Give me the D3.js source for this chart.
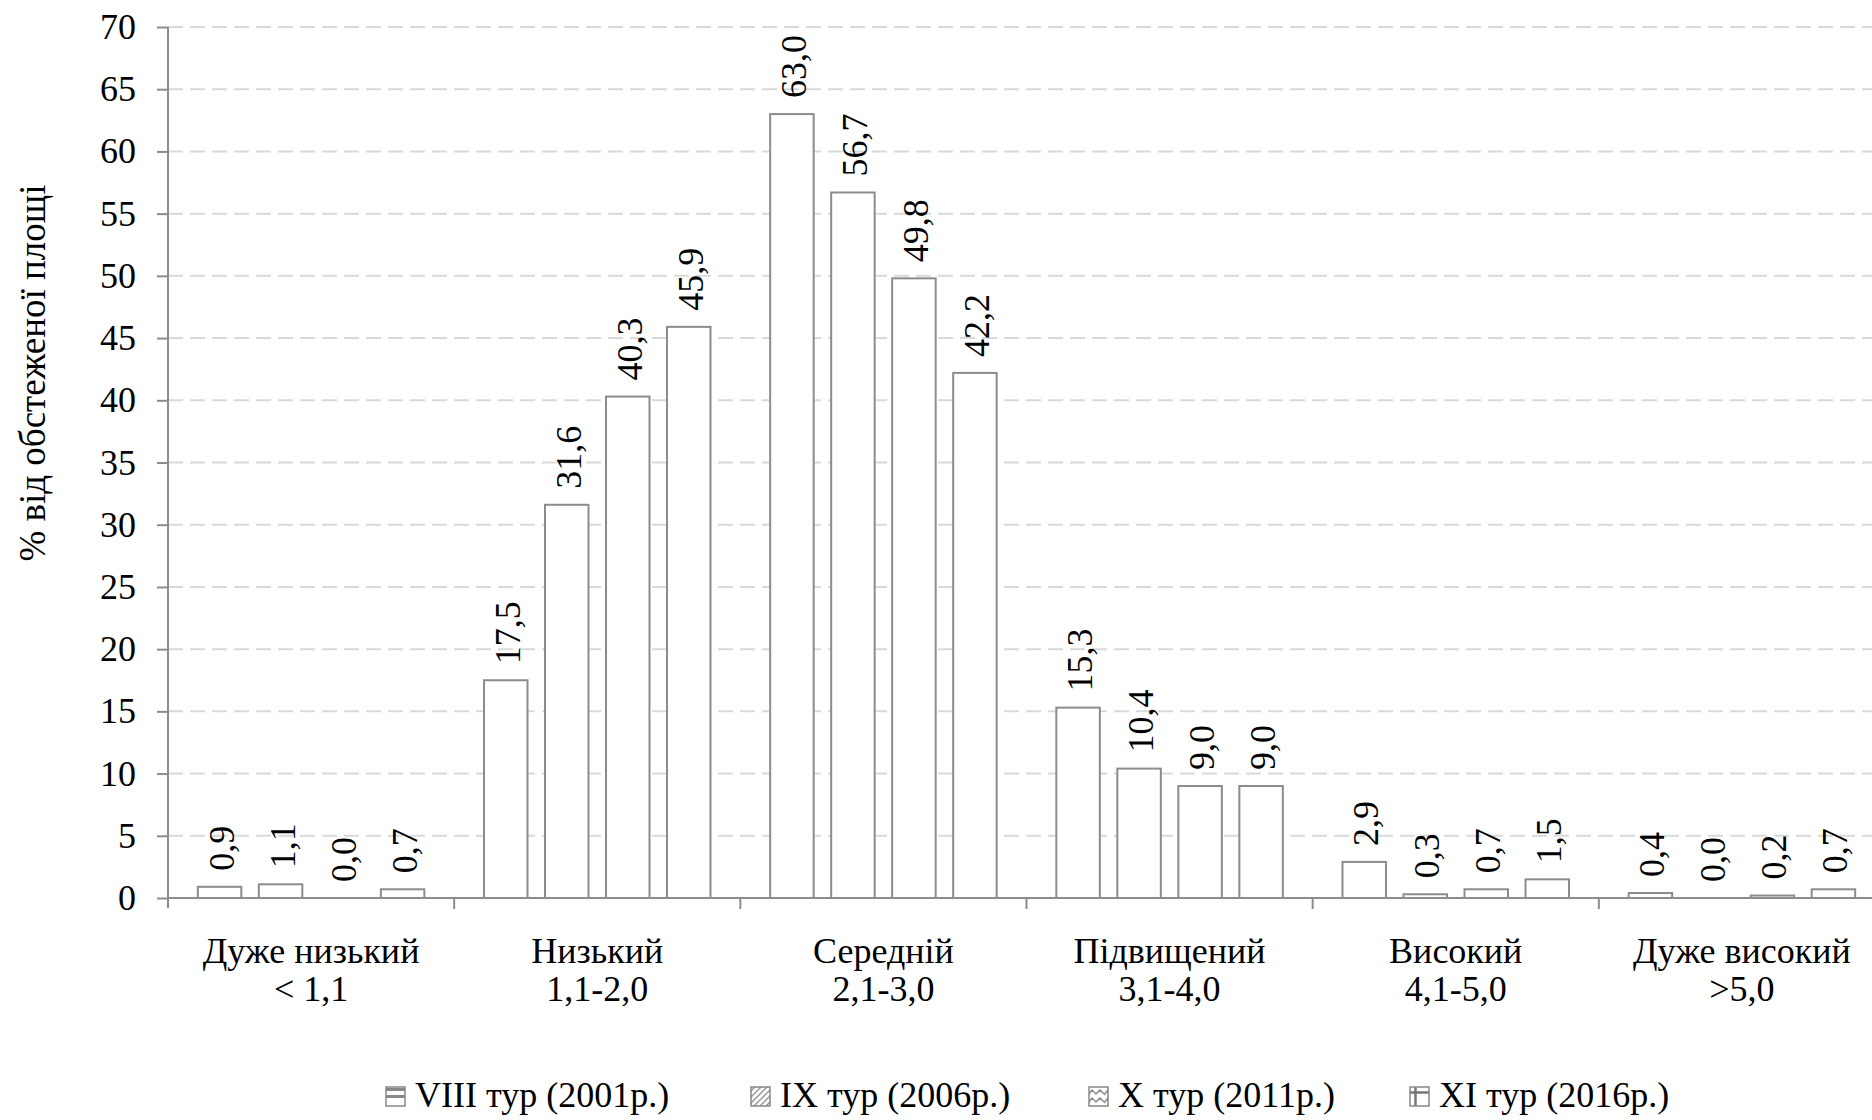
<!DOCTYPE html>
<html>
<head>
<meta charset="utf-8">
<script src="https://cdn.jsdelivr.net/npm/d3@7"></script>
<style>
  body { margin: 0; background: #fff; }
</style>
</head>
<body>
<div id="chart"></div>
<script>
// categories (two lines each)
const categories = ["Дуже низький", "Низький", "Середній", "Підвищений", "Високий", "Дуже високий"];
const ranges = ["< 1,1", "1,1-2,0", "2,1-3,0", "3,1-4,0", "4,1-5,0", ">5,0"];
const seriesNames = ["VIII тур (2001р.)", "IX тур (2006р.)", "X тур (2011р.)", "XI тур (2016р.)"];

// values per series, in category order
const tour8 = [0.9, 17.5, 63.0, 15.3, 2.9, 0.4];
const tour9 = [1.1, 31.6, 56.7, 10.4, 0.3, 0.0];
const tour10 = [0.0, 40.3, 49.8, 9.0, 0.7, 0.2];
const tour11 = [0.7, 45.9, 42.2, 9.0, 1.5, 0.7];
const yTicks = [0, 5, 10, 15, 20, 25, 30, 35, 40, 45, 50, 55, 60, 65, 70];

const allSeries = [tour8, tour9, tour10, tour11];

const width = 1872, height = 1120;
// the last category runs past the right edge, as in the original
const margin = {top: 27, left: 168, right: -13, bottom: 222};
const gray = "#8c8c8c";
const FONT = "'Liberation Serif', Tinos, 'Times New Roman', Times, 'Nimbus Roman', 'DejaVu Serif', 'Noto Serif', serif";
const legendX = [386, 751, 1089, 1410];

const svg = d3.select("#chart").append("svg")
  .attr("width", width).attr("height", height)
  .style("font-family", FONT);

// legend swatch patterns
const defs = svg.append("defs");
const p1 = defs.append("pattern").attr("id", "pat0").attr("width", 19).attr("height", 19).attr("patternUnits", "userSpaceOnUse");
p1.append("rect").attr("width", 19).attr("height", 19).attr("fill", "#fff");
p1.append("rect").attr("y", 5).attr("width", 19).attr("height", 3).attr("fill", "#888");
p1.append("rect").attr("y", 12).attr("width", 19).attr("height", 3).attr("fill", "#888");
const p2 = defs.append("pattern").attr("id", "pat1").attr("width", 6).attr("height", 6).attr("patternUnits", "userSpaceOnUse");
p2.append("rect").attr("width", 6).attr("height", 6).attr("fill", "#fff");
p2.append("path").attr("d", "M0,6 L6,0 M-1,1 L1,-1 M5,7 L7,5").attr("stroke", "#999").attr("stroke-width", 1.5);
const p3 = defs.append("pattern").attr("id", "pat2").attr("width", 16).attr("height", 8).attr("patternUnits", "userSpaceOnUse");
p3.append("rect").attr("width", 16).attr("height", 8).attr("fill", "#fff");
p3.append("path").attr("d", "M0,7 L4,2 L8,6 L12,2 L16,6").attr("stroke", "#888").attr("fill", "none").attr("stroke-width", 1.5);
const p4 = defs.append("pattern").attr("id", "pat3").attr("width", 19).attr("height", 19).attr("patternUnits", "userSpaceOnUse");
p4.append("rect").attr("width", 19).attr("height", 19).attr("fill", "#fff");
p4.append("path").attr("d", "M0,9.5 L19,9.5 M9.5,0 L9.5,19").attr("stroke", "#777").attr("stroke-width", 2.5);

const x0 = d3.scaleBand().domain(categories)
  .range([margin.left, width - margin.right]).padding(0);
const x1 = d3.scaleBand().domain(d3.range(seriesNames.length))
  .range([0, x0.bandwidth()]).paddingInner(0.287).paddingOuter(0.489);
const y = d3.scaleLinear().domain([0, 70]).range([height - margin.bottom, margin.top]);

const fmt = v => d3.format(".1f")(v).replace(".", ",");

// gridlines
svg.append("g").selectAll("line")
  .data(yTicks.filter(d => d > 0))
  .join("line")
  .attr("x1", margin.left).attr("x2", width)
  .attr("y1", d => y(d)).attr("y2", d => y(d))
  .attr("stroke", "#d9d9d9").attr("stroke-width", 2)
  .attr("stroke-dasharray", "15,7");

// y axis
const yAxis = svg.append("g")
  .attr("transform", `translate(${margin.left},0)`)
  .call(d3.axisLeft(y).tickValues(yTicks).tickSize(11).tickPadding(21).tickSizeOuter(0));
yAxis.attr("font-family", null).attr("font-size", null);
yAxis.select(".domain").attr("stroke", gray).attr("stroke-width", 2)
  .attr("d", `M0,${y(70)}V${y(0) + 10}`);
yAxis.selectAll(".tick line").attr("stroke", gray).attr("stroke-width", 2);
yAxis.selectAll(".tick text").attr("font-size", 36).attr("fill", "#000");

// bars
const groups = svg.append("g").selectAll("g")
  .data(categories)
  .join("g")
  .attr("transform", d => `translate(${x0(d)},0)`);

groups.selectAll("rect")
  .data((c, ci) => allSeries.map((s, si) => ({si, v: s[ci]})))
  .join("rect")
  .attr("x", d => x1(d.si))
  .attr("width", x1.bandwidth())
  .attr("y", d => y(d.v))
  .attr("height", d => y(0) - y(d.v))
  .attr("fill", "#fff")
  .attr("stroke", d => d.v > 0 ? gray : "none")
  .attr("stroke-width", 2);

groups.selectAll("text.val")
  .data((c, ci) => allSeries.map((s, si) => ({si, v: s[ci]})))
  .join("text")
  .attr("class", "val")
  .attr("transform", d => `translate(${x1(d.si) + x1.bandwidth() / 2 + 2},${y(d.v) - 16}) rotate(-90)`)
  .attr("dominant-baseline", "central")
  .attr("font-size", 36)
  .text(d => fmt(d.v));

// x axis
const xAxisY = y(0);
svg.append("line")
  .attr("x1", margin.left).attr("x2", width)
  .attr("y1", xAxisY).attr("y2", xAxisY)
  .attr("stroke", gray).attr("stroke-width", 2);
svg.append("g").selectAll("line")
  .data(categories.slice(1))
  .join("line")
  .attr("x1", d => x0(d)).attr("x2", d => x0(d))
  .attr("y1", xAxisY).attr("y2", xAxisY + 11)
  .attr("stroke", gray).attr("stroke-width", 2);

const xl = svg.append("g").selectAll("text")
  .data(categories)
  .join("text")
  .attr("text-anchor", "middle")
  .attr("font-size", 36);
xl.append("tspan").attr("x", d => x0(d) + x0.bandwidth() / 2).attr("y", 963).text(d => d);
xl.append("tspan").attr("x", d => x0(d) + x0.bandwidth() / 2).attr("y", 1001)
  .text((d, i) => ranges[i]);

// y title
svg.append("text")
  .attr("transform", "translate(32,373) rotate(-90)")
  .attr("text-anchor", "middle")
  .attr("dominant-baseline", "central")
  .attr("font-size", 37)
  .text("% від обстеженої площі");

// legend
const legend = svg.append("g");
seriesNames.forEach((name, i) => {
  legend.append("rect")
    .attr("x", legendX[i]).attr("y", 1087).attr("width", 19).attr("height", 19)
    .attr("fill", `url(#pat${i})`).attr("stroke", "#888").attr("stroke-width", 1.5);
  legend.append("text")
    .attr("x", legendX[i] + 29).attr("y", 1107)
    .attr("font-size", 36)
    .text(name);
});
</script>
</body>
</html>
